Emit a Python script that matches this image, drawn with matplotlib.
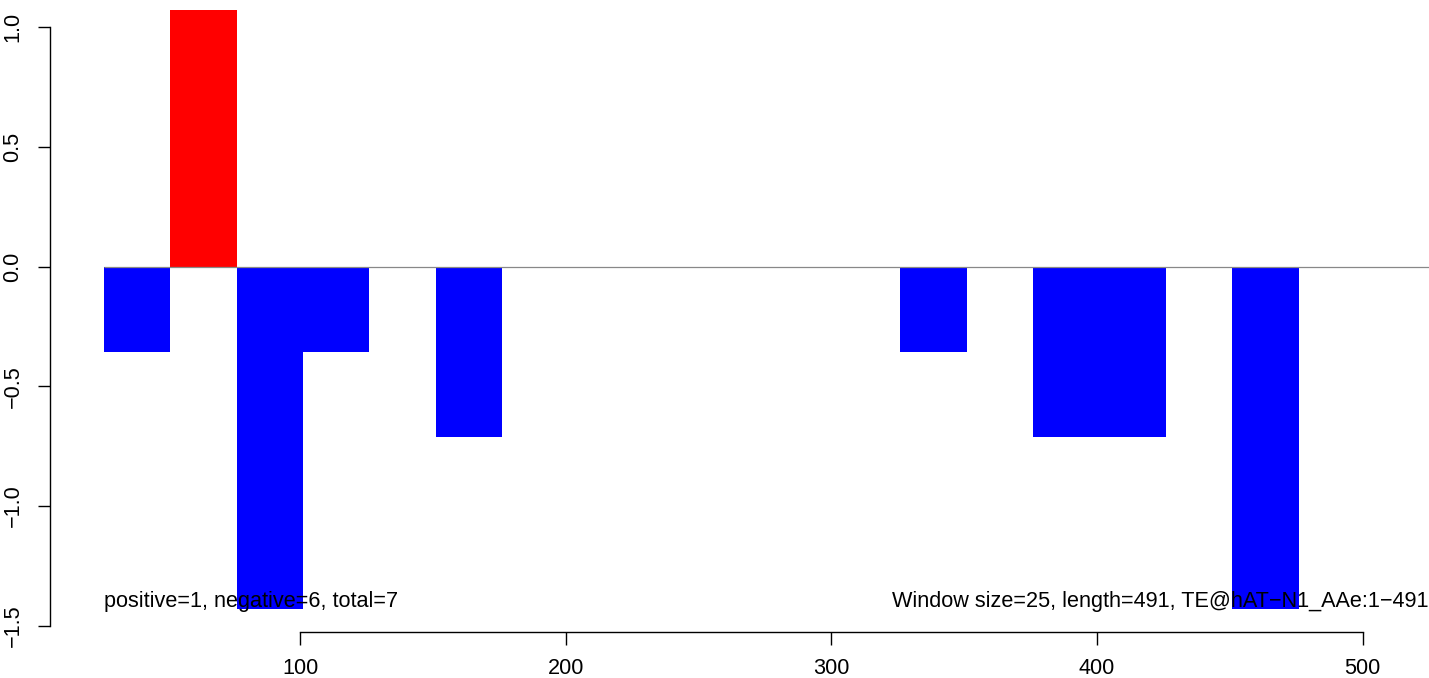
import matplotlib
matplotlib.use("Agg")
import matplotlib.pyplot as plt

# Window start positions (window size 25) and signed scores
starts = [26, 51, 76, 101, 151, 326, 376, 401, 451]
values = [-0.357, 1.071, -1.429, -0.357, -0.714, -0.357, -0.714, -0.714, -1.429]
window = 25
xticks = [100, 200, 300, 400, 500]
yticks = [-1.5, -1.0, -0.5, 0.0, 0.5, 1.0]
ytick_labels = ["\u22121.5", "\u22121.0", "\u22120.5", "0.0", "0.5", "1.0"]
left_text = "positive=1, negative=6, total=7"
right_text = "Window size=25, length=491, TE@hAT\u2212N1_AAe:1\u2212491"

plt.rcParams['font.family'] = ['Liberation Sans', 'DejaVu Sans']

W, H = 1429, 678
fig = plt.figure(figsize=(W / 100, H / 100), dpi=100)
ax = fig.add_axes([50 / W, (H - 632) / H, 1 - 50 / W, 632 / H])

colors = ['red' if v > 0 else 'blue' for v in values]
ax.bar(starts, values, width=window, align='edge', color=colors, linewidth=0, zorder=2)
ax.hlines(0, starts[0], 530, color='#888888', linewidth=0.9, zorder=3)

ax.set_xlim(5.76, 525.0)
ax.set_ylim(-1.527, 1.1145)

for s in ['top', 'right']:
    ax.spines[s].set_visible(False)
ax.spines['left'].set_bounds(-1.5, 1.0)
ax.spines['bottom'].set_bounds(100, 500)
for s in ['left', 'bottom']:
    ax.spines[s].set_linewidth(1.0)

fs = 15.6
ax.set_xticks(xticks)
ax.set_xticklabels([str(t) for t in xticks])
ax.set_yticks(yticks)
ax.set_yticklabels(ytick_labels, rotation=90, va='center')
ax.tick_params(axis='both', direction='out', length=9, width=1.0, labelsize=fs)
ax.tick_params(axis='x', pad=10)
ax.tick_params(axis='y', pad=10)

ax.text(starts[0], -1.40, left_text, ha='left', va='center', fontsize=fs, zorder=4)
ax.text(525.0, -1.40, right_text, ha='right', va='center', fontsize=fs, zorder=4)

fig.savefig("out.png", dpi=100)
